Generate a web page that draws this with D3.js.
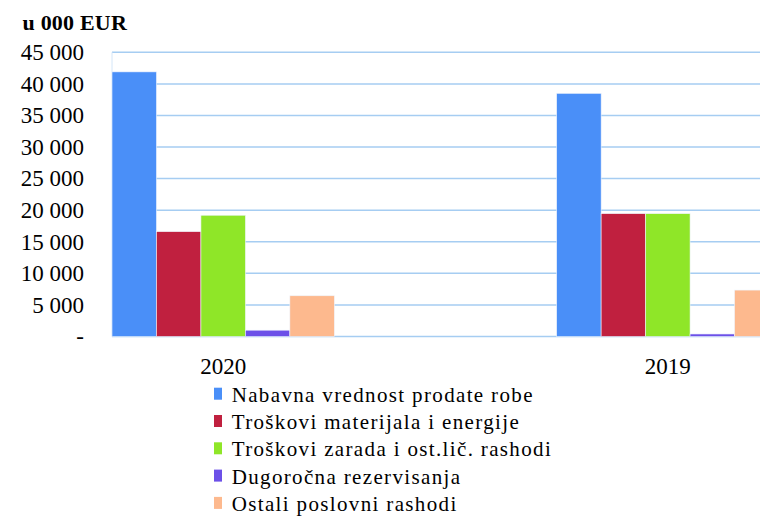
<!DOCTYPE html>
<html>
<head>
<meta charset="utf-8">
<script src="https://cdn.jsdelivr.net/npm/d3@7"></script>
<style>
  body { margin: 0; background: #fff; }
  #chart svg { display: block; font-family: "Liberation Serif", "Times New Roman", serif; }
</style>
</head>
<body>
<div id="chart"></div>
<script>
// Data (thousand EUR)
const years = ["2020", "2019"];
const seriesNames = [
    "Nabavna vrednost prodate robe",
    "Troškovi materijala i energije",
    "Troškovi zarada i ost.lič. rashodi",
    "Dugoročna rezervisanja",
    "Ostali poslovni rashodi"
];
const values2020 = [41900, 16600, 19200, 1000, 6450];
const values2019 = [38500, 19450, 19450, 400, 7350];
const yTicks = [0, 5000, 10000, 15000, 20000, 25000, 30000, 35000, 40000, 45000];
const colors = ["#4a8ff8", "#c0203f", "#8fe628", "#6c50e8", "#fdb98e"];

const valuesByYear = { "2020": values2020, "2019": values2019 };

const W = 760, H = 516;
const plot = { left: 112, right: 779, top: 52.3, bottom: 336.5 };

const svg = d3.select("#chart")
    .append("svg")
    .attr("width", W)
    .attr("height", H);

// Scales
const x0 = d3.scaleBand()
    .domain(years)
    .range([plot.left, plot.right])
    .paddingInner(0.5)
    .paddingOuter(0);

const x1 = d3.scaleBand()
    .domain(d3.range(seriesNames.length))
    .range([0, x0.bandwidth()])
    .padding(0);

const y = d3.scaleLinear()
    .domain([0, 45000])
    .range([plot.bottom, plot.top]);

// Gridlines
svg.append("g")
    .selectAll("line")
    .data(yTicks)
    .join("line")
    .attr("x1", plot.left)
    .attr("x2", W)
    .attr("y1", d => y(d))
    .attr("y2", d => y(d))
    .style("stroke", "#a6cdf2")
    .style("stroke-width", 1.5);

// Left axis line
svg.append("line")
    .attr("x1", plot.left).attr("x2", plot.left)
    .attr("y1", plot.top).attr("y2", plot.bottom)
    .style("stroke", "#d4e6f8")
    .style("stroke-width", 1);

// Y axis labels
const fmt = v => v === 0 ? "-" : d3.format(",")(v).replace(/,/g, " ");
const yAxis = svg.append("g")
    .attr("transform", `translate(${plot.left},0)`)
    .call(d3.axisLeft(y).tickValues(yTicks).tickFormat(fmt).tickSize(0).tickPadding(28));
yAxis.select(".domain").remove();
yAxis.selectAll("text")
    .style("font-family", "'Liberation Serif', serif")
    .style("font-size", "23px")
    .style("fill", "#000");

// Unit title
svg.append("text")
    .attr("x", 22.5)
    .attr("y", 30)
    .style("font-size", "22px")
    .style("font-weight", "bold")
    .style("letter-spacing", "0.2px")
    .text("u 000 EUR");

// Bars
const groups = svg.append("g")
    .selectAll("g")
    .data(years)
    .join("g")
    .attr("transform", d => `translate(${x0(d)},0)`);

groups.selectAll("rect")
    .data(d => valuesByYear[d].map((v, i) => ({ i, v })))
    .join("rect")
    .attr("x", d => x1(d.i))
    .attr("width", x1.bandwidth())
    .attr("y", d => y(d.v))
    .attr("height", d => y(0) - y(d.v))
    .style("fill", d => colors[d.i])
    .style("stroke", "#eef4fc")
    .style("stroke-width", 0.6);

// X labels
svg.append("g")
    .selectAll("text")
    .data(years)
    .join("text")
    .attr("x", d => x0(d) + x0.bandwidth() / 2)
    .attr("y", 374)
    .attr("text-anchor", "middle")
    .style("font-size", "23px")
    .text(d => d);

// Legend
const legend = svg.append("g")
    .attr("transform", "translate(214,393.7)")
    .selectAll("g")
    .data(seriesNames)
    .join("g")
    .attr("transform", (d, i) => `translate(0,${i * 27.3})`);

legend.append("rect")
    .attr("x", 0)
    .attr("y", -6)
    .attr("width", 8)
    .attr("height", 12)
    .style("fill", (d, i) => colors[i]);

legend.append("text")
    .attr("x", 17.7)
    .attr("y", 8)
    .style("font-size", "21px")
    .style("letter-spacing", "1.35px")
    .text(d => d);
</script>
</body>
</html>
